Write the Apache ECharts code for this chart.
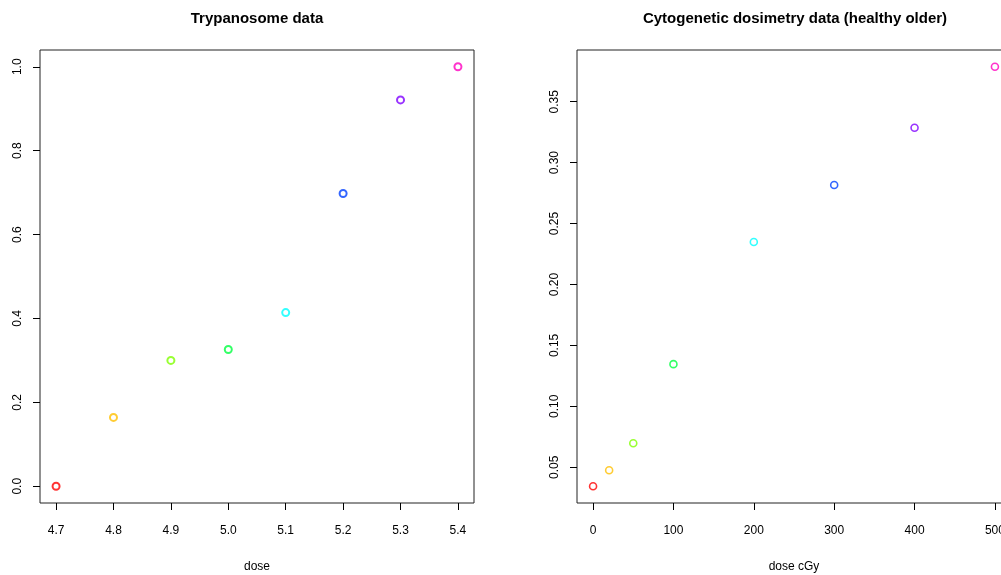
<!DOCTYPE html>
<html>
<head>
<meta charset="utf-8">
<script src="https://cdn.jsdelivr.net/npm/echarts@6/dist/echarts.min.js"></script>
<style>
  html, body { margin: 0; padding: 0; background: #fff; }
  #chart { width: 1001px; height: 575px; }
</style>
</head>
<body>
<div id="chart"></div>
<script>
// Trypanosome data: proportion responding by dose
const trypDose = [4.7, 4.8, 4.9, 5.0, 5.1, 5.2, 5.3, 5.4];
const trypResp = [0.0, 0.164, 0.300, 0.326, 0.414, 0.698, 0.921, 1.0];
const trypXTicks = [4.7, 4.8, 4.9, 5.0, 5.1, 5.2, 5.3, 5.4];
const trypYTicks = [0.0, 0.2, 0.4, 0.6, 0.8, 1.0];

// Cytogenetic dosimetry data (healthy older): yield by dose in cGy
const cytoDose = [0, 20, 50, 100, 200, 300, 400, 500];
const cytoResp = [0.0344, 0.0475, 0.0697, 0.1346, 0.2349, 0.2817, 0.3286, 0.3787];
const cytoXTicks = [0, 100, 200, 300, 400, 500];
const cytoYTicks = [0.05, 0.10, 0.15, 0.20, 0.25, 0.30, 0.35];

// rainbow(8) palette, one colour per dose level
const pointColors = ['#FF0000', '#FFBF00', '#80FF00', '#00FF40', '#00FFFF', '#0040FF', '#8000FF', '#FF00BF'];

// R-style axis range: data range extended by 4% on each side
function padded(vals) {
  const lo = Math.min(...vals), hi = Math.max(...vals);
  const d = (hi - lo) * 0.04;
  return [lo - d, hi + d];
}

const FONT = 'Liberation Sans, Arial, Helvetica, sans-serif';

function xAxisFor(gridIndex, range, ticks, name, digits) {
  return {
    type: 'value', gridIndex, min: range[0], max: range[1],
    name, nameLocation: 'middle', nameGap: 58,
    nameTextStyle: { fontFamily: FONT, fontSize: 12, color: '#000' },
    axisLine: { show: false, onZero: false },
    splitLine: { show: false },
    axisTick: { show: true, length: 7, inside: false, customValues: ticks, lineStyle: { color: '#000', width: 1 } },
    axisLabel: {
      customValues: ticks, margin: 22, color: '#000', fontFamily: FONT, fontSize: 12,
      hideOverlap: false, showMinLabel: true, showMaxLabel: true,
      formatter: v => Number(v).toFixed(digits)
    }
  };
}

function yAxisFor(gridIndex, range, ticks, digits) {
  return {
    type: 'value', gridIndex, min: range[0], max: range[1],
    axisLine: { show: false, onZero: false },
    splitLine: { show: false },
    axisTick: { show: true, length: 7, customValues: ticks, lineStyle: { color: '#000', width: 1 } },
    axisLabel: {
      customValues: ticks, rotate: 90, margin: 16, color: '#000', fontFamily: FONT, fontSize: 12,
      hideOverlap: false, showMinLabel: true, showMaxLabel: true,
      formatter: v => Number(v).toFixed(digits)
    }
  };
}

function pointSeries(idx, xs, ys, border) {
  return {
    type: 'scatter', xAxisIndex: idx, yAxisIndex: idx,
    data: xs.map((x, i) => ({
      value: [x, ys[i]],
      itemStyle: { color: 'transparent', borderColor: pointColors[i], borderWidth: border }
    })),
    symbol: 'circle', symbolSize: 7,
    silent: true, animation: false
  };
}

const chart = echarts.init(document.getElementById('chart'), null, { renderer: 'canvas' });
chart.setOption({
  backgroundColor: '#fff',
  animation: false,
  title: [
    { text: 'Trypanosome data', left: 252, top: 6, textAlign: 'center',
      textStyle: { fontFamily: FONT, fontSize: 15, fontWeight: 'bold', color: '#000' } },
    { text: 'Cytogenetic dosimetry data (healthy older)', left: 790, top: 6, textAlign: 'center',
      textStyle: { fontFamily: FONT, fontSize: 15, fontWeight: 'bold', color: '#000' } }
  ],
  grid: [
    { left: 40, top: 50, width: 434, height: 453, outerBoundsMode: 'none', containLabel: false,
      show: true, borderColor: '#222', borderWidth: 1, backgroundColor: 'transparent' },
    { left: 577, top: 50, width: 434, height: 453, outerBoundsMode: 'none', containLabel: false,
      show: true, borderColor: '#222', borderWidth: 1, backgroundColor: 'transparent' }
  ],
  xAxis: [
    xAxisFor(0, padded(trypDose), trypXTicks, 'dose', 1),
    xAxisFor(1, padded(cytoDose), cytoXTicks, 'dose cGy', 0)
  ],
  yAxis: [
    yAxisFor(0, padded(trypResp), trypYTicks, 1),
    yAxisFor(1, padded(cytoResp), cytoYTicks, 2)
  ],
  series: [
    pointSeries(0, trypDose, trypResp, 2),
    pointSeries(1, cytoDose, cytoResp, 1.6)
  ]
});
</script>
</body>
</html>
